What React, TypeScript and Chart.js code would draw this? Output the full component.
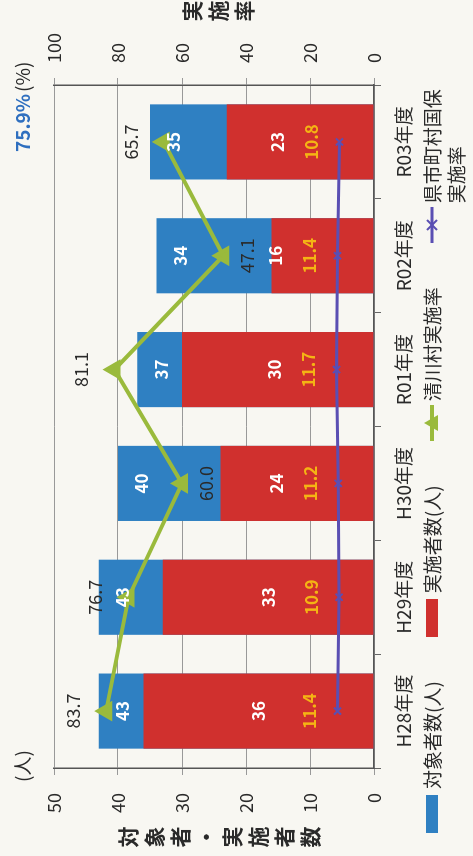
import React, { useEffect, useRef } from "react";
import { Chart, registerables } from "chart.js";

Chart.register(...registerables);

const categories = ["H28年度", "H29年度", "H30年度", "R01年度", "R02年度", "R03年度"];
const targetCounts = [43, 43, 40, 37, 34, 35];
const participantCounts = [36, 33, 24, 30, 16, 23];
const villageRates = [83.7, 76.7, 60.0, 81.1, 47.1, 65.7];
const prefectureRates = [11.4, 10.9, 11.2, 11.7, 11.4, 10.8];
const countTicks = [0, 10, 20, 30, 40, 50];
const rateTicks = [0, 20, 40, 60, 80, 100];
const villageLabelSide = ["above", "above", "below", "above", "below", "above"];

const FONT = "'Noto Sans CJK JP', 'Noto Sans', sans-serif";
const BLUE = "#2f80c2";
const RED = "#d0302e";
const GREEN = "#9aba3c";
const PURPLE = "#5a4fb3";
const YELLOW = "#f4b414";
const INK = "#2a2a2a";
const PAPER = "#f8f7f2";

export default function App() {
  const ref = useRef<HTMLCanvasElement>(null);

  useEffect(() => {
    const canvas = ref.current as HTMLCanvasElement;
    const labelPlugin = {
      id: "valueLabels",
      afterDatasetsDraw(chart: any) {
        const ctx = chart.ctx;
        const blue = chart.getDatasetMeta(0).data;
        const red = chart.getDatasetMeta(1).data;
        const green = chart.getDatasetMeta(2).data;
        const purple = chart.getDatasetMeta(3).data;
        ctx.save();
        ctx.textAlign = "center";
        ctx.textBaseline = "middle";
        ctx.font = `bold 17px ${FONT}`;
        ctx.fillStyle = "#ffffff";
        blue.forEach((bar: any, i: number) => {
          ctx.fillText(String(targetCounts[i]), bar.x, bar.y + 24);
        });
        red.forEach((bar: any, i: number) => {
          const center = (bar.y + bar.base) / 2;
          const y = Math.min(center, purple[i].y - 62);
          ctx.fillText(String(participantCounts[i]), bar.x, y);
        });
        ctx.fillStyle = YELLOW;
        purple.forEach((pt: any, i: number) => {
          ctx.fillText(prefectureRates[i].toFixed(1), pt.x, pt.y - 28);
        });
        ctx.font = `18px ${FONT}`;
        ctx.fillStyle = INK;
        green.forEach((pt: any, i: number) => {
          const y = villageLabelSide[i] === "above" ? pt.y - 33 : pt.y + 24;
          ctx.fillText(villageRates[i].toFixed(1), pt.x, y);
        });
        ctx.restore();
      },
    };

    const tickFont = { family: FONT, size: 18 };
    const chart = new Chart(canvas, {
      type: "bar",
      data: {
        labels: categories,
        datasets: [
          {
            type: "bar",
            label: "対象者数(人)",
            data: targetCounts,
            backgroundColor: BLUE,
            yAxisID: "y",
            order: 4,
            grouped: false,
            categoryPercentage: 0.66,
            barPercentage: 1,
          } as any,
          {
            type: "bar",
            label: "実施者数(人)",
            data: participantCounts,
            backgroundColor: RED,
            yAxisID: "y",
            order: 3,
            grouped: false,
            categoryPercentage: 0.66,
            barPercentage: 1,
          } as any,
          {
            type: "line",
            label: "清川村実施率",
            data: villageRates,
            borderColor: GREEN,
            backgroundColor: GREEN,
            borderWidth: 4,
            pointStyle: "triangle",
            pointRadius: 8,
            pointBackgroundColor: GREEN,
            pointBorderColor: GREEN,
            yAxisID: "y1",
            order: 1,
          } as any,
          {
            type: "line",
            label: "県市町村国保実施率",
            data: prefectureRates,
            borderColor: PURPLE,
            backgroundColor: PURPLE,
            borderWidth: 3,
            pointStyle: "crossRot",
            pointRadius: 5,
            pointBorderWidth: 2,
            pointBorderColor: PURPLE,
            yAxisID: "y1",
            order: 2,
          } as any,
        ],
      },
      options: {
        responsive: false,
        animation: false,
        devicePixelRatio: 1,
        layout: { padding: { top: 54, left: 0, right: 0, bottom: 0 } },
        plugins: { legend: { display: false }, tooltip: { enabled: false } },
        scales: {
          x: {
            grid: { offset: true, drawOnChartArea: false, tickLength: 7, color: "#666" },
            border: { display: true, color: "#555", width: 1.5 },
            ticks: { font: { family: FONT, size: 19 }, color: INK, padding: 11, maxRotation: 0, autoSkip: false },
            afterFit: (s: any) => {
              s.height = 99;
            },
          },
          y: {
            position: "left",
            min: 0,
            max: 50,
            afterBuildTicks: (s: any) => {
              s.ticks = countTicks.map((v) => ({ value: v }));
            },
            ticks: { font: tickFont, color: INK, padding: 18 },
            grid: { color: "#999", tickLength: 7, lineWidth: 1 },
            border: { display: true, color: "#555", width: 1.5 },
            afterFit: (s: any) => {
              s.width = 88;
            },
          },
          y1: {
            position: "right",
            min: 0,
            max: 100,
            afterBuildTicks: (s: any) => {
              s.ticks = rateTicks.map((v) => ({ value: v }));
            },
            ticks: { font: tickFont, color: INK, padding: 15 },
            grid: { drawOnChartArea: false, tickLength: 7, color: "#999" },
            border: { display: true, color: "#555", width: 1.5 },
            afterFit: (s: any) => {
              s.width = 85;
            },
          },
        },
      } as any,
      plugins: [labelPlugin],
    });
    return () => chart.destroy();
  }, []);

  const legendText: React.CSSProperties = {
    fontFamily: FONT,
    fontSize: 19,
    lineHeight: "24px",
    color: INK,
    whiteSpace: "nowrap",
  };
  const box = (color: string) => (
    <div style={{ width: 38, height: 12, background: color, marginTop: 6, marginRight: 6, flex: "none" }} />
  );

  return (
    <div
      style={{
        position: "absolute",
        left: 0,
        top: 0,
        width: 856,
        height: 473,
        transformOrigin: "0 0",
        transform: "translate(0px, 856px) rotate(-90deg)",
        background: PAPER,
        overflow: "hidden",
      }}
    >
      <canvas ref={ref} width={856} height={473} style={{ position: "absolute", left: 0, top: 0 }} />
      <div
        style={{
          position: "absolute",
          left: 4,
          top: 118,
          writingMode: "vertical-rl",
          textOrientation: "upright",
          fontFamily: FONT,
          fontWeight: 700,
          fontSize: 21,
          letterSpacing: 5,
          color: INK,
        }}
      >
        対象者・実施者数
      </div>
      <div style={{ position: "absolute", left: 74, top: 8, fontFamily: FONT, fontSize: 19, color: INK }}>(人)</div>
      <div style={{ position: "absolute", left: 704, top: 8, fontFamily: FONT, fontSize: 19, fontWeight: 700, color: "#2f6fbf" }}>
        75.9%
      </div>
      <div style={{ position: "absolute", left: 764, top: 8, fontFamily: FONT, fontSize: 19, color: INK }}>(%)</div>
      <div
        style={{
          position: "absolute",
          left: 830,
          top: 182,
          writingMode: "vertical-rl",
          textOrientation: "upright",
          fontFamily: FONT,
          fontWeight: 700,
          fontSize: 21,
          letterSpacing: 5,
          color: INK,
        }}
      >
        実施率
      </div>
      <div style={{ position: "absolute", left: 23, top: 420, display: "flex", alignItems: "flex-start", gap: 44 }}>
        <div style={{ display: "flex", alignItems: "flex-start" }}>
          {box(BLUE)}
          <span style={legendText}>対象者数(人)</span>
        </div>
        <div style={{ display: "flex", alignItems: "flex-start" }}>
          {box(RED)}
          <span style={legendText}>実施者数(人)</span>
        </div>
        <div style={{ display: "flex", alignItems: "flex-start" }}>
          <svg width={36} height={24} style={{ marginRight: 4, flex: "none" }}>
            <line x1={0} y1={12} x2={36} y2={12} stroke={GREEN} strokeWidth={4} />
            <polygon points="18,4 26,18 10,18" fill={GREEN} />
          </svg>
          <span style={legendText}>清川村実施率</span>
        </div>
        <div style={{ display: "flex", alignItems: "flex-start" }}>
          <svg width={36} height={24} style={{ marginRight: 4, flex: "none" }}>
            <line x1={0} y1={12} x2={36} y2={12} stroke={PURPLE} strokeWidth={3} />
            <line x1={13} y1={7} x2={23} y2={17} stroke={PURPLE} strokeWidth={2} />
            <line x1={23} y1={7} x2={13} y2={17} stroke={PURPLE} strokeWidth={2} />
          </svg>
          <span style={legendText}>
            県市町村国保
            <br />
            実施率
          </span>
        </div>
      </div>
    </div>
  );
}
